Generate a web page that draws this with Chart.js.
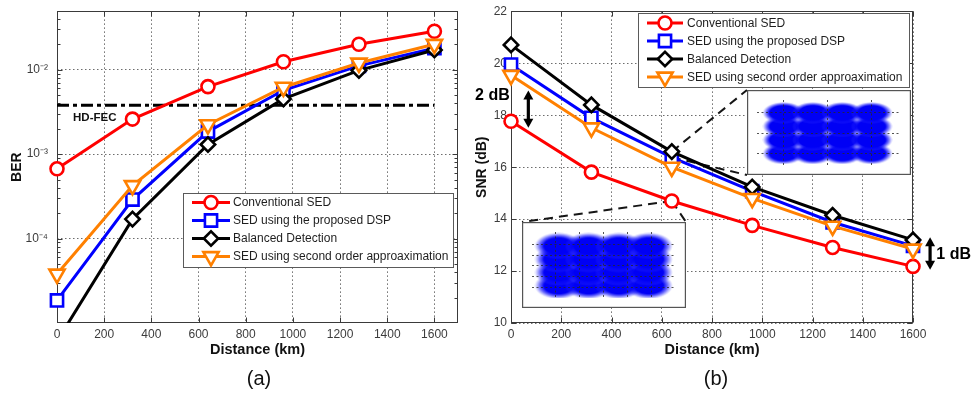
<!DOCTYPE html>
<html><head><meta charset="utf-8">
<script src="https://cdn.jsdelivr.net/npm/chart.js@4.4.1/dist/chart.umd.min.js"></script>
<style>
html,body{margin:0;padding:0;background:#fff;}
#wrap{position:relative;width:973px;height:395px;overflow:hidden;font-family:"Liberation Sans",Arial,sans-serif;}
#wrap canvas{position:absolute;}
.cap{position:absolute;font-size:20px;color:#111;transform:translate(-50%,-50%);white-space:nowrap;}
</style></head><body>
<div id="wrap">
<canvas id="cA" width="973" height="395" style="left:0;top:0"></canvas>
<canvas id="cB" width="973" height="395" style="left:0;top:0"></canvas>
<canvas id="cI1" width="164" height="85" style="left:747px;top:90px"></canvas>
<canvas id="cI2" width="164" height="86" style="left:522px;top:222px"></canvas>
<div class="cap" style="left:259px;top:378px">(a)</div>
<div class="cap" style="left:716px;top:378px">(b)</div>
</div>
<script>
// ---------------- data ----------------
const distances = [0, 320, 640, 960, 1280, 1600];
const seriesLabels = ['Conventional SED', 'SED using the proposed DSP', 'Balanced Detection', 'SED using second order approaximation'];

const berConventional = [6.7e-4, 2.6e-3, 6.3e-3, 1.24e-2, 2.0e-2, 2.85e-2];
const berProposedDSP  = [1.85e-5, 2.9e-4, 1.85e-3, 5.7e-3, 1.11e-2, 1.8e-2];
const berBalanced     = [6.1e-6, 1.7e-4, 1.3e-3, 4.5e-3, 9.8e-3, 1.71e-2];
const berSecondOrder  = [3.8e-5, 4.25e-4, 2.23e-3, 6.2e-3, 1.2e-2, 2.0e-2];
const hdFecThreshold = 3.8e-3;
const hdFecLabel = 'HD-FEC';

const snrConventional = [17.77, 15.81, 14.70, 13.76, 12.91, 12.18];
const snrProposedDSP  = [19.95, 17.90, 16.38, 15.08, 13.88, 12.97];
const snrBalanced     = [20.71, 18.40, 16.60, 15.24, 14.15, 13.20];
const snrSecondOrder  = [19.54, 17.52, 16.00, 14.80, 13.73, 12.85];

const distanceTicks = [0, 200, 400, 600, 800, 1000, 1200, 1400, 1600];
const berTicks = [1e-4, 1e-3, 1e-2];
const berTickLabels = ['10\u207B\u2074', '10\u207B\u00B3', '10\u207B\u00B2'];
const snrTicks = [10, 12, 14, 16, 18, 20, 22];

const gapLabels = ['2 dB', '1 dB'];
const qamLevels = [-3, -1, 1, 3];

// ---------------- styles ----------------
const FONT = "'Liberation Sans', Arial, sans-serif";
Chart.defaults.font.family = FONT;
const seriesStyles = [
  {color: '#ff0000', pointStyle: 'circle',   radius: 6.5, rotation: 0},
  {color: '#0000ff', pointStyle: 'rect',     radius: 8.6, rotation: 0},
  {color: '#000000', pointStyle: 'rectRot',  radius: 7.2, rotation: 0},
  {color: '#ff8000', pointStyle: 'triangle', radius: 8.8, rotation: 180}
];
const drawOrder = [4, 3, 2, 1];

function makeDatasets(arrays) {
  return arrays.map((vals, i) => ({
    label: seriesLabels[i],
    data: distances.map((d, k) => ({x: d, y: vals[k]})),
    borderColor: seriesStyles[i].color,
    backgroundColor: '#ffffff',
    borderWidth: 3,
    pointStyle: seriesStyles[i].pointStyle,
    pointRadius: seriesStyles[i].radius,
    pointRotation: seriesStyles[i].rotation,
    pointBorderWidth: 2.6,
    pointBackgroundColor: '#ffffff',
    pointBorderColor: seriesStyles[i].color,
    order: drawOrder[i],
    clip: {left: 20, right: 20, top: 20, bottom: 0},
    tension: 0
  }));
}

function drawMarker(ctx, ds, x, y) {
  ctx.save();
  ctx.setLineDash([]);
  ctx.fillStyle = '#ffffff';
  ctx.strokeStyle = ds.pointBorderColor;
  ctx.lineWidth = ds.pointBorderWidth;
  Chart.helpers.drawPoint(ctx, {pointStyle: ds.pointStyle, rotation: ds.pointRotation, radius: ds.pointRadius, borderWidth: ds.pointBorderWidth}, x, y);
  ctx.restore();
}

// MATLAB-like box with inward ticks
const boxPlugin = {
  id: 'matlabBox',
  beforeDatasetsDraw(chart, args, o) {
    if (!o || !o.enabled) return;
    const {ctx, chartArea: a, scales} = chart;
    ctx.save();
    ctx.setLineDash([]);
    ctx.strokeStyle = '#3a3a3a';
    ctx.lineWidth = 1;
    const L = Math.round(a.left) + 0.5, R = Math.round(a.right) - 0.5, T = Math.round(a.top) + 0.5, B = Math.round(a.bottom) - 0.5;
    ctx.strokeRect(L, T, R - L, B - T);
    ctx.beginPath();
    (o.xTicks || []).forEach(v => {
      const px = Math.round(scales.x.getPixelForValue(v)) + 0.5;
      ctx.moveTo(px, B); ctx.lineTo(px, B - 5);
      ctx.moveTo(px, T); ctx.lineTo(px, T + 5);
    });
    (o.yTicks || []).forEach(v => {
      const py = Math.round(scales.y.getPixelForValue(v)) + 0.5;
      ctx.moveTo(L, py); ctx.lineTo(L + 5, py);
      ctx.moveTo(R, py); ctx.lineTo(R - 5, py);
    });
    (o.yMinor || []).forEach(v => {
      const py = Math.round(scales.y.getPixelForValue(v)) + 0.5;
      if (py < T || py > B) return;
      ctx.moveTo(L, py); ctx.lineTo(L + 3, py);
      ctx.moveTo(R, py); ctx.lineTo(R - 3, py);
    });
    ctx.stroke();
    ctx.restore();
  }
};

// Boxed legend drawn inside the axes
const legendPlugin = {
  id: 'boxLegend',
  afterDatasetsDraw(chart, args, o) {
    if (!o || !o.box) return;
    const ctx = chart.ctx;
    const {x, y, w, h} = o.box;
    ctx.save();
    ctx.fillStyle = '#ffffff';
    ctx.fillRect(x, y, w, h);
    ctx.strokeStyle = '#5a5a5a'; ctx.lineWidth = 1; ctx.setLineDash([]);
    ctx.strokeRect(x + 0.5, y + 0.5, w, h);
    o.items.forEach((idx, i) => {
      const ds = chart.data.datasets[idx];
      const cy = y + o.firstRow + i * o.rowGap;
      ctx.strokeStyle = ds.borderColor; ctx.lineWidth = ds.borderWidth;
      ctx.beginPath(); ctx.moveTo(x + o.lineStart, cy); ctx.lineTo(x + o.lineEnd, cy); ctx.stroke();
      drawMarker(ctx, ds, x + (o.lineStart + o.lineEnd) / 2, cy);
      ctx.fillStyle = '#1e1e1e';
      ctx.font = '12px ' + FONT;
      ctx.textBaseline = 'middle';
      ctx.textAlign = 'left';
      ctx.fillText(ds.label, x + o.textX, cy + 0.5);
    });
    ctx.restore();
  }
};

function fixedTicks(values) {
  return (scale) => { scale.ticks = values.map(v => ({value: v})); };
}
function fixWidth(w) {
  return (scale) => { scale.width = w; scale.paddingTop = 0; scale.paddingBottom = 0; };
}
function fixHeight(h) {
  return (scale) => { scale.height = h; scale.paddingLeft = 0; scale.paddingRight = 0; };
}
const plainNumber = (v) => String(v);

const gridStyle = {color: 'rgba(60,60,60,0.75)', lineWidth: 1, drawTicks: false};
const borderStyle = {display: false, dash: [1.5, 2.5]};
const tickFont = {size: 12};
const tickColor = '#3c3c3c';

// ---------------- (a) BER ----------------
const minorBer = [];
[1e-5, 1e-4, 1e-3, 1e-2].forEach(dec => { for (let m = 2; m <= 9; m++) minorBer.push(m * dec); });

const hdFecDataset = {
  label: hdFecLabel,
  data: [{x: distances[0], y: hdFecThreshold}, {x: distances[distances.length - 1], y: hdFecThreshold}],
  borderColor: '#000000', borderWidth: 3, borderDash: [12, 4, 4, 4],
  pointRadius: 0, order: 5, clip: false
};

const hdFecLabelPlugin = {
  id: 'hdFecText',
  afterDatasetsDraw(chart, args, o) {
    if (!o || !o.at) return;
    const {ctx, scales} = chart;
    ctx.save();
    ctx.font = 'bold 11.5px ' + FONT;
    ctx.fillStyle = '#111';
    ctx.textBaseline = 'middle';
    ctx.fillText(o.text, scales.x.getPixelForValue(o.at.x), scales.y.getPixelForValue(o.at.y));
    ctx.restore();
  }
};

new Chart(document.getElementById('cA'), {
  type: 'line',
  data: {datasets: [...makeDatasets([berConventional, berProposedDSP, berBalanced, berSecondOrder]), hdFecDataset]},
  plugins: [boxPlugin, legendPlugin, hdFecLabelPlugin],
  options: {
    responsive: false, animation: false, events: [],
    layout: {padding: {left: 0, top: 8, right: 515, bottom: 35}},
    plugins: {
      legend: {display: false}, tooltip: {enabled: false},
      matlabBox: {enabled: true, xTicks: distanceTicks, yTicks: berTicks, yMinor: minorBer},
      boxLegend: {box: {x: 183, y: 193, w: 270, h: 74}, items: [0, 1, 2, 3], firstRow: 9.5, rowGap: 18, lineStart: 9, lineEnd: 47, textX: 50},
      hdFecText: {text: hdFecLabel, at: {x: 68, y: 2.7e-3}}
    },
    scales: {
      x: {
        type: 'linear', min: 0, max: 1700,
        afterBuildTicks: fixedTicks(distanceTicks), afterFit: fixHeight(37),
        grid: gridStyle, border: borderStyle,
        ticks: {font: tickFont, color: tickColor, padding: 4, maxRotation: 0, callback: plainNumber},
        title: {display: true, text: 'Distance (km)', font: {size: 14.5, weight: 'bold'}, color: '#111', padding: {top: 0, bottom: 1}}
      },
      y: {
        type: 'logarithmic', min: 1e-5, max: 0.049,
        afterBuildTicks: fixedTicks(berTicks), afterFit: fixWidth(57),
        grid: gridStyle, border: borderStyle,
        ticks: {font: tickFont, color: tickColor, padding: 9, callback: (v) => { const i = berTicks.findIndex(t => Math.abs(t - v) / t < 1e-6); return i >= 0 ? berTickLabels[i] : ''; }},
        title: {display: true, text: 'BER', font: {size: 14, weight: 'bold'}, color: '#111', padding: {top: 9, bottom: 0}}
      }
    }
  }
});

// ---------------- (b) SNR ----------------
const annotationsB = {
  arrows: [
    {x: 69, y1: 18.95, y2: 17.52},
    {x: 1668, y1: 13.30, y2: 12.05}
  ],
  labels: [
    {text: gapLabels[0], x: -5, y: 18.77, align: 'right'},
    {text: gapLabels[1], x: 1693, y: 12.63, align: 'left'}
  ],
  connectors: [
    {series: 2, idx: 2, to: {x: 747, y: 90}},
    {series: 1, idx: 2, to: {x: 747, y: 175}},
    {series: 0, idx: 2, to: {x: 522, y: 222}},
    {series: 0, idx: 2, to: {x: 686, y: 222}}
  ]
};

const annotPlugin = {
  id: 'snrAnnot',
  beforeDatasetsDraw(chart, args, o) {
    if (!o || !o.connectors) return;
    const {ctx} = chart;
    ctx.save();
    ctx.strokeStyle = '#151515'; ctx.lineWidth = 2; ctx.setLineDash([9, 6]);
    o.connectors.forEach(c => {
      const pt = chart.getDatasetMeta(c.series).data[c.idx];
      ctx.beginPath(); ctx.moveTo(pt.x, pt.y); ctx.lineTo(c.to.x, c.to.y); ctx.stroke();
    });
    ctx.restore();
  },
  afterDraw(chart, args, o) {
    if (!o || !o.arrows) return;
    const {ctx, scales} = chart;
    ctx.save();
    ctx.setLineDash([]);
    ctx.fillStyle = '#000'; ctx.strokeStyle = '#000';
    o.arrows.forEach(a => {
      const x = scales.x.getPixelForValue(a.x);
      const yt = scales.y.getPixelForValue(a.y1);
      const yb = scales.y.getPixelForValue(a.y2);
      const hw = 5, hl = 9;
      ctx.lineWidth = 3.2;
      ctx.beginPath(); ctx.moveTo(x, yt + hl - 1); ctx.lineTo(x, yb - hl + 1); ctx.stroke();
      ctx.beginPath(); ctx.moveTo(x, yt); ctx.lineTo(x - hw, yt + hl); ctx.lineTo(x + hw, yt + hl); ctx.closePath(); ctx.fill();
      ctx.beginPath(); ctx.moveTo(x, yb); ctx.lineTo(x - hw, yb - hl); ctx.lineTo(x + hw, yb - hl); ctx.closePath(); ctx.fill();
    });
    ctx.font = 'bold 16px ' + FONT;
    ctx.textBaseline = 'middle';
    o.labels.forEach(l => {
      ctx.textAlign = l.align;
      ctx.fillText(l.text, scales.x.getPixelForValue(l.x), scales.y.getPixelForValue(l.y));
    });
    ctx.restore();
  }
};

new Chart(document.getElementById('cB'), {
  type: 'line',
  data: {datasets: makeDatasets([snrConventional, snrProposedDSP, snrBalanced, snrSecondOrder])},
  plugins: [boxPlugin, legendPlugin, annotPlugin],
  options: {
    responsive: false, animation: false, events: [],
    layout: {padding: {left: 474, top: 7, right: 60, bottom: 35}},
    plugins: {
      legend: {display: false}, tooltip: {enabled: false},
      matlabBox: {enabled: true, xTicks: distanceTicks, yTicks: snrTicks},
      boxLegend: {box: {x: 638, y: 13, w: 271, h: 74}, items: [0, 1, 2, 3], firstRow: 10, rowGap: 18, lineStart: 9, lineEnd: 45, textX: 49},
      snrAnnot: annotationsB
    },
    scales: {
      x: {
        type: 'linear', min: 0, max: 1600,
        afterBuildTicks: fixedTicks(distanceTicks), afterFit: fixHeight(37),
        grid: gridStyle, border: borderStyle,
        ticks: {font: tickFont, color: tickColor, padding: 4, maxRotation: 0, callback: plainNumber},
        title: {display: true, text: 'Distance (km)', font: {size: 14.5, weight: 'bold'}, color: '#111', padding: {top: 0, bottom: 1}}
      },
      y: {
        type: 'linear', min: 10, max: 22,
        afterBuildTicks: fixedTicks(snrTicks), afterFit: fixWidth(37),
        grid: gridStyle, border: borderStyle,
        ticks: {font: tickFont, color: tickColor, padding: 4, callback: plainNumber},
        title: {display: true, text: 'SNR (dB)', font: {size: 14, weight: 'bold'}, color: '#111', padding: {top: 0, bottom: 0}}
      }
    }
  }
});

// ---------------- constellation insets ----------------
function makeBlob(w, h, core) {
  const c = document.createElement('canvas');
  c.width = w; c.height = h;
  const g = c.getContext('2d');
  g.translate(w / 2, h / 2);
  g.scale(w / 2, h / 2);
  const grd = g.createRadialGradient(0, 0, 0, 0, 0, 1);
  grd.addColorStop(0, 'rgba(0,0,245,1)');
  grd.addColorStop(core, 'rgba(0,0,245,1)');
  grd.addColorStop(core + (1 - core) * 0.45, 'rgba(15,15,250,0.6)');
  grd.addColorStop(1, 'rgba(60,60,255,0)');
  g.fillStyle = grd;
  g.beginPath(); g.arc(0, 0, 1, 0, Math.PI * 2); g.fill();
  return c;
}
const constellation = [];
qamLevels.forEach(q => qamLevels.forEach(i => constellation.push({x: i, y: q})));

const insetFrame = {
  id: 'insetFrame',
  beforeDraw(chart) {
    const {ctx, width, height} = chart;
    ctx.save(); ctx.fillStyle = '#fff'; ctx.fillRect(0, 0, width, height); ctx.restore();
  },
  afterDraw(chart) {
    const {ctx, width, height} = chart;
    ctx.save(); ctx.strokeStyle = '#555'; ctx.lineWidth = 1.2; ctx.setLineDash([]);
    ctx.strokeRect(0.6, 0.6, width - 1.2, height - 1.2); ctx.restore();
  }
};

function makeInset(id, xr, yr, xg, yg, blob) {
  new Chart(document.getElementById(id), {
    type: 'scatter',
    data: {datasets: [{data: constellation, pointStyle: blob, pointRadius: 10, borderWidth: 0, backgroundColor: 'rgba(0,0,255,1)'}]},
    plugins: [insetFrame],
    options: {
      responsive: false, animation: false, events: [],
      layout: {padding: 0},
      plugins: {legend: {display: false}, tooltip: {enabled: false}},
      scales: {
        x: {min: xr[0], max: xr[1], afterBuildTicks: fixedTicks(xg), afterFit: fixHeight(0), ticks: {display: false}, grid: {color: 'rgba(40,40,40,0.8)', drawTicks: false, z: 1}, border: {display: false, dash: [2, 2.5]}},
        y: {min: yr[0], max: yr[1], afterBuildTicks: fixedTicks(yg), afterFit: fixWidth(0), ticks: {display: false}, grid: {color: 'rgba(40,40,40,0.8)', drawTicks: false, z: 1}, border: {display: false, dash: [2, 2.5]}}
      }
    }
  });
}
makeInset('cI1', [-4.8, 5.0], [-4.7, 4.9], [-3, 0, 3], [-3, 0, 3], makeBlob(42, 22, 0.66));
makeInset('cI2', [-4.75, 4.8], [-4.85, 5.1], [-3.2, -1.6, 0, 1.6, 3.2], [-3.2, -1.6, 0, 1.6, 3.2], makeBlob(48, 27, 0.6));
</script>
</body></html>
